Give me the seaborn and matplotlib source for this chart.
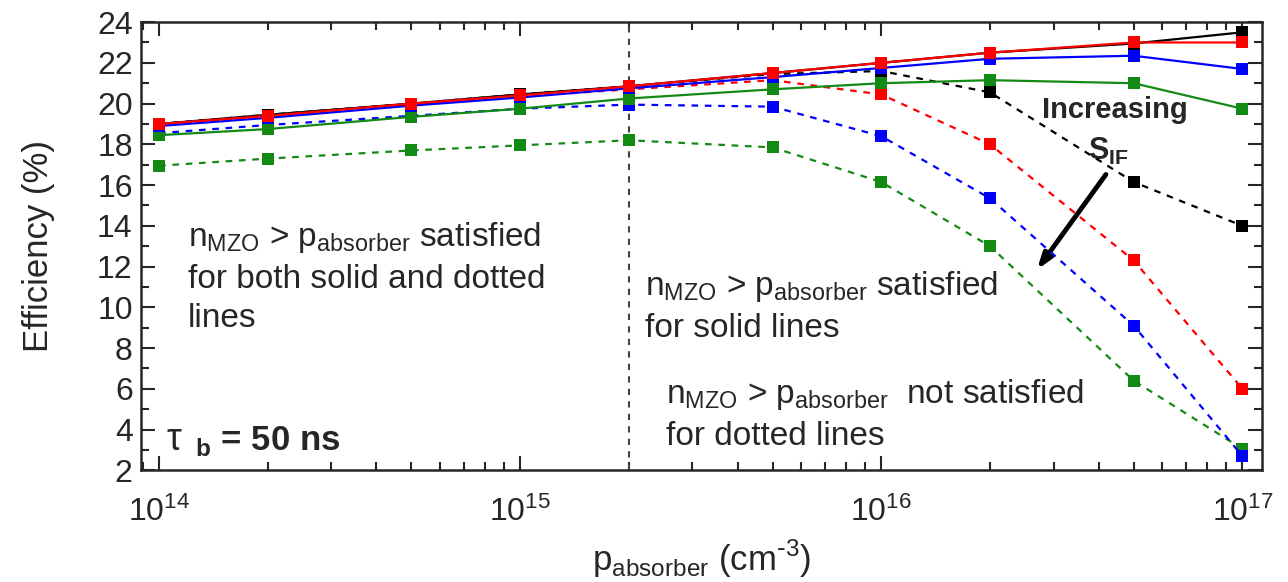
import numpy as np
import pandas as pd
import matplotlib
matplotlib.use("Agg")
import matplotlib.pyplot as plt
import seaborn as sns

# doping of absorber (cm^-3)
p_absorber = [1e14, 2e14, 5e14, 1e15, 2e15, 5e15, 1e16, 2e16, 5e16, 1e17]

# solid lines: n_MZO > p_absorber satisfied
eff_black_solid = [19.0, 19.45, 20.0, 20.45, 20.85, 21.5, 22.0, 22.5, 22.95, 23.5]
eff_red_solid = [19.0, 19.4, 20.0, 20.4, 20.85, 21.5, 22.0, 22.5, 23.0, 23.0]
eff_blue_solid = [18.9, 19.3, 19.9, 20.3, 20.75, 21.3, 21.75, 22.2, 22.35, 21.7]
eff_green_solid = [18.45, 18.75, 19.35, 19.75, 20.25, 20.7, 21.0, 21.15, 21.0, 19.75]

# dotted lines: n_MZO > p_absorber not satisfied
eff_black_dash = [19.0, 19.45, 20.0, 20.45, 20.85, 21.45, 21.6, 20.55, 16.15, 14.0]
eff_red_dash = [18.95, 19.35, 19.95, 20.35, 20.7, 21.15, 20.45, 18.0, 12.3, 6.0]
eff_blue_dash = [18.55, 18.95, 19.4, 19.75, 19.95, 19.85, 18.4, 15.35, 9.1, 2.7]
eff_green_dash = [16.95, 17.3, 17.7, 17.95, 18.2, 17.85, 16.15, 13.0, 6.4, 3.05]

series = [
    (eff_green_dash, "#138a13", "dash"),
    (eff_blue_dash, "#0000ff", "dash"),
    (eff_red_dash, "#ff0000", "dash"),
    (eff_black_dash, "#000000", "dash"),
    (eff_green_solid, "#138a13", "solid"),
    (eff_black_solid, "#000000", "solid"),
    (eff_blue_solid, "#0000ff", "solid"),
    (eff_red_solid, "#ff0000", "solid"),
]

sns.set_style("ticks")
plt.rcParams["font.family"] = ["Liberation Sans", "DejaVu Sans"]

fig = plt.figure(figsize=(12.88, 5.82), dpi=100)
ax = fig.add_axes([0.1095, 0.192, 0.8705, 0.77])

for i, (vals, col, kind) in enumerate(series):
    df = pd.DataFrame({"p": p_absorber, "eff": vals})
    ls = "-" if kind == "solid" else (0, (3, 3))
    sns.lineplot(data=df, x="p", y="eff", ax=ax, color=col, linestyle=ls,
                 linewidth=1.6, marker="s", markersize=9, markeredgecolor=col,
                 markeredgewidth=0, zorder=3 + i)

ax.axvline(2e15, color="#444444", linestyle=(0, (3, 3)), linewidth=1.5, zorder=2)

ax.set_xscale("log")
ax.set_xlim(10 ** 13.95, 10 ** 17.055)
ax.set_ylim(2, 24)
ax.set_yticks(np.arange(2, 25, 2))
ax.yaxis.set_minor_locator(matplotlib.ticker.MultipleLocator(1))
ax.xaxis.set_minor_locator(matplotlib.ticker.LogLocator(base=10, subs=np.arange(2, 10), numticks=20))
ax.tick_params(which="both", direction="in", top=True, right=True, width=1.5)
ax.tick_params(which="major", length=10, labelsize=23)
ax.tick_params(axis="x", which="major", pad=19)
ax.tick_params(axis="y", which="major", pad=6)
ax.tick_params(which="minor", length=6)
for s in ax.spines.values():
    s.set_linewidth(1.8)

ax.set_xlabel(r"p$_\mathregular{absorber}$ (cm$^{\mathregular{\text{-}3}}$)", fontsize=25, labelpad=7)
ax.set_ylabel("Efficiency (%)", fontsize=25, labelpad=30)

# text blocks, anchored on the baseline of their last line
txt = 24
ax.text(0.042, 0.319,
        "n$_\\mathregular{MZO}$ > p$_\\mathregular{absorber}$ satisfied\n"
        "for both solid and dotted\nlines",
        transform=ax.transAxes, fontsize=txt, va="baseline", linespacing=1.35)
ax.text(0.4496, 0.297,
        "n$_\\mathregular{MZO}$ > p$_\\mathregular{absorber}$ satisfied\nfor solid lines",
        transform=ax.transAxes, fontsize=txt, va="baseline", linespacing=1.4)
ax.text(0.468, 0.056,
        "n$_\\mathregular{MZO}$ > p$_\\mathregular{absorber}$  not satisfied\nfor dotted lines",
        transform=ax.transAxes, fontsize=txt, va="baseline", linespacing=1.4)
ax.text(0.023, 0.045, "τ", transform=ax.transAxes, fontsize=27, va="baseline")
ax.text(0.048, 0.045, r"$_\mathregular{b}$ = 50 ns",
        transform=ax.transAxes, fontsize=25, fontweight="bold", va="baseline")
ax.text(0.869, 0.786, "Increasing", transform=ax.transAxes, fontsize=21,
        fontweight="bold", ha="center", va="baseline")
ax.text(0.863, 0.692, r"S$_\mathregular{IF}$", transform=ax.transAxes, fontsize=22,
        fontweight="bold", ha="center", va="baseline")
ax.annotate("", xy=(0.7975, 0.442), xytext=(0.862, 0.665), xycoords="axes fraction",
            arrowprops=dict(arrowstyle="-|>,head_length=0.9,head_width=0.3",
                            color="black", lw=3.5))

fig.savefig("out.png", dpi=100)
